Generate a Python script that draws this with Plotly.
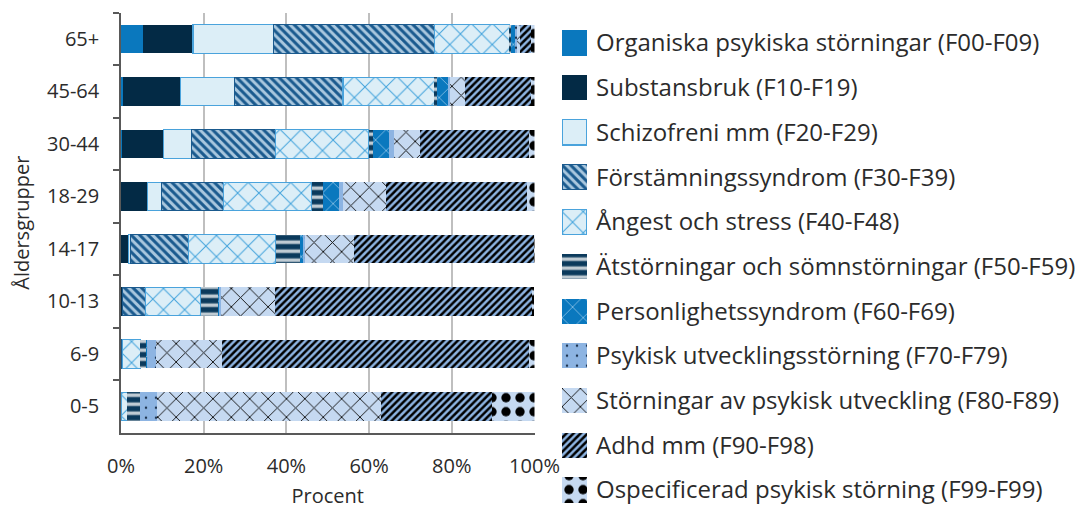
import plotly.graph_objects as go

age_groups = ["65+", "45-64", "30-44", "18-29", "14-17", "10-13", "6-9", "0-5"]

series_names = [
    "Organiska psykiska störningar (F00-F09)",
    "Substansbruk (F10-F19)",
    "Schizofreni mm (F20-F29)",
    "Förstämningssyndrom (F30-F39)",
    "Ångest och stress (F40-F48)",
    "Ätstörningar och sömnstörningar (F50-F59)",
    "Personlighetssyndrom (F60-F69)",
    "Psykisk utvecklingsstörning (F70-F79)",
    "Störningar av psykisk utveckling (F80-F89)",
    "Adhd mm (F90-F98)",
    "Ospecificerad psykisk störning (F99-F99)",
]

organiska = [5.2, 0.4, 0.2, 0.1, 0.1, 0.1, 0.0, 0.0]
substans = [12.2, 14.0, 10.1, 6.4, 1.8, 0.2, 0.0, 0.0]
schizofreni = [19.4, 13.1, 6.8, 3.2, 0.4, 0.1, 0.0, 0.0]
forstamning = [39.1, 26.2, 20.2, 15.0, 14.1, 5.6, 0.3, 0.1]
angest = [18.0, 22.2, 22.6, 21.5, 21.0, 13.3, 4.4, 1.4]
atstorning = [0.3, 0.4, 1.0, 2.6, 5.9, 4.2, 1.5, 3.0]
personlighet = [1.3, 3.0, 4.0, 4.0, 0.8, 0.3, 0.2, 0.0]
psykisk_utv = [0.3, 0.3, 1.0, 1.0, 0.3, 0.5, 2.1, 4.3]
storningar_utv = [0.8, 3.6, 6.4, 10.2, 11.9, 13.0, 15.9, 54.0]
adhd = [2.5, 15.9, 26.4, 34.2, 43.6, 62.3, 74.2, 27.0]
ospecificerad = [1.0, 1.0, 1.3, 1.9, 0.1, 0.3, 1.4, 10.4]

x_ticks = [0, 20, 40, 60, 80, 100]
x_tick_labels = ["0%", "20%", "40%", "60%", "80%", "100%"]

# legend swatch length (one unit on the legend's own axis)
swatch_len = [1]

values = [organiska, substans, schizofreni, forstamning, angest, atstorning,
          personlighet, psykisk_utv, storningar_utv, adhd, ospecificerad]

def pat(shape="", fg="#000000", size=8, solidity=0.3):
    if not shape:
        return dict(shape="")
    return dict(shape=shape, fgcolor=fg, fgopacity=1, size=size, solidity=solidity)

styles = [
    dict(color="#0a78be", pattern=pat(), line=dict(width=0)),
    dict(color="#032a45", pattern=pat(), line=dict(width=0)),
    dict(color="#dcEEf7", pattern=pat(), line=dict(width=1.2, color="#4aa3dc")),
    dict(color="#a9c7de", pattern=pat("\\", "#1a5a8e", 6, 0.5), line=dict(width=1, color="#1a5a8e")),
    dict(color="#dcEEf7", pattern=pat("x", "#42a3dc", 15, 0.13), line=dict(width=1.2, color="#4aa3dc")),
    dict(color="#0b3a5c", pattern=pat("-", "#bfcbd3", 9, 0.4), line=dict(width=0)),
    dict(color="#0a78be", pattern=pat("x", "#b5daf2", 15, 0.08), line=dict(width=0)),
    dict(color="#8db4e2", pattern=pat(".", "#1f3550", 10, 0.05), line=dict(width=0)),
    dict(color="#c5d9f1", pattern=pat("x", "#111111", 13, 0.14), line=dict(width=0)),
    dict(color="#8db4e2", pattern=pat("/", "#000000", 5, 0.5), line=dict(width=0)),
    dict(color="#c5d9f1", pattern=pat(".", "#000000", 14, 0.35), line=dict(width=0)),
]

W, H = 1079, 509
L = 121
plot_w = W - L
def fx(px):
    return (px - L) / plot_w
def fy(py):
    return (H - py) / H

# legend layout: first entry centred at 43 px, 44.7 px per entry
leg_top = 43 - 44.7 / 2
leg_span = (H - leg_top) / 44.7
leg_range = [-0.5 + leg_span, -0.5]

fig = go.Figure()
for name, vals, st in zip(series_names, values, styles):
    fig.add_trace(go.Bar(
        y=age_groups, x=vals, name=name, orientation="h", width=0.54,
        showlegend=False, xaxis="x", yaxis="y",
        marker=dict(color=st["color"], pattern=st["pattern"], line=st["line"]),
        hovertemplate="%{y}: %{x}%<extra>" + name + "</extra>",
    ))
    # legend swatch drawn on its own small axis
    fig.add_trace(go.Bar(
        y=[name], x=swatch_len, orientation="h", width=0.56,
        showlegend=False, xaxis="x2", yaxis="y2", hoverinfo="skip",
        marker=dict(color=st["color"], pattern=st["pattern"], line=st["line"]),
    ))

text_color = "#2b2b2b"
fig.update_layout(
    barmode="stack",
    width=W, height=H,
    margin=dict(l=L, r=0, t=0, b=0, autoexpand=False),
    paper_bgcolor="white", plot_bgcolor="white",
    font=dict(family="Open Sans", size=20, color=text_color),
    showlegend=False,
    xaxis=dict(
        domain=[0, fx(534.5)], range=[0, 100],
        tickvals=x_ticks, ticktext=x_tick_labels,
        showgrid=True, gridcolor="#bfbfbf", gridwidth=1.5,
        showline=True, linecolor="#595959", linewidth=1.5,
        ticks="", ticklabelstandoff=15, automargin=False,
        zeroline=False, fixedrange=True,
        title=dict(text="Procent", font=dict(size=20), standoff=22),
        tickfont=dict(size=20),
    ),
    yaxis=dict(
        domain=[fy(432.7), fy(12.7)],
        categoryorder="array", categoryarray=age_groups, autorange="reversed",
        showline=True, linecolor="#595959", linewidth=1.5,
        ticks="outside", ticklen=6, tickwidth=1.5, tickcolor="#595959", tickson="boundaries",
        ticklabelstandoff=16, automargin=False,
        title=dict(text="Åldersgrupper", font=dict(size=20), standoff=12),
        tickfont=dict(size=20),
        showgrid=False, fixedrange=True,
    ),
    xaxis2=dict(
        domain=[fx(562), fx(587)], range=[0, 1], anchor="y2",
        visible=False, fixedrange=True, automargin=False,
    ),
    yaxis2=dict(
        domain=[0, fy(leg_top)], anchor="x2", side="right",
        categoryorder="array", categoryarray=series_names, range=leg_range,
        showline=False, showgrid=False, zeroline=False, ticks="",
        ticklabelstandoff=8, automargin=False,
        tickfont=dict(size=24, color=text_color),
        fixedrange=True,
    ),
)

fig.write_html("out.html")
